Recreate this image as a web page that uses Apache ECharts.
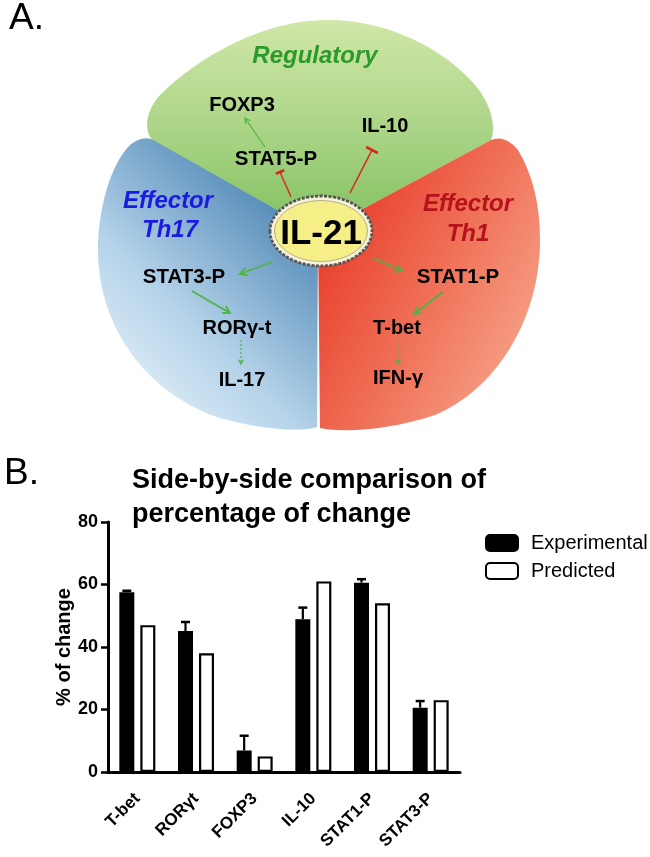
<!DOCTYPE html>
<html><head><meta charset="utf-8">
<script src="https://cdn.jsdelivr.net/npm/echarts@6/dist/echarts.min.js"></script>
<style>html,body{margin:0;padding:0;background:#fff}#c{width:650px;height:857px}</style>
</head><body><div id="c"></div>
<script>
// ---- Data (panel B) ----
const categories = ['T-bet', 'RORγt', 'FOXP3', 'IL-10', 'STAT1-P', 'STAT3-P'];
const experimental = [57.5, 45.1, 6.9, 48.9, 60.6, 20.6];
const experimentalErr = [0.5, 2.9, 4.7, 3.7, 1.1, 2.1];
const predicted = [47, 38, 5, 61, 54, 23];
const seriesNames = ['Experimental', 'Predicted'];
const yMin = 0, yMax = 80, yStep = 20;

const F = '"Liberation Sans", Arial, Helvetica, sans-serif';

// ---- Panel A diagram helpers ----
function txt(x, base, s, size, color, st, al) {
  return { type: 'text', z2: 20, style: { text: s, x: x, y: base - 0.35 * size,
    font: (st || 'bold') + ' ' + size + 'px ' + F, fill: color,
    textAlign: al || 'center', textVerticalAlign: 'middle', align: al || 'center', verticalAlign: 'middle' } };
}
function arrow(x1, y1, x2, y2, color, w, head, dash) {
  const a = Math.atan2(y2 - y1, x2 - x1), sp = 0.5;
  return [
    { type: 'line', z2: 15, shape: { x1: x1, y1: y1, x2: x2, y2: y2 }, style: { stroke: color, lineWidth: w, lineDash: dash || null } },
    { type: 'polyline', z2: 15, shape: { points: [[x2 - head * Math.cos(a - sp), y2 - head * Math.sin(a - sp)], [x2, y2], [x2 - head * Math.cos(a + sp), y2 - head * Math.sin(a + sp)]] },
      style: { stroke: color, lineWidth: w, fill: null } }
  ];
}
function inhibit(x1, y1, x2, y2, color, w, bar) {
  const a = Math.atan2(y2 - y1, x2 - x1), px = -Math.sin(a), py = Math.cos(a);
  return [
    { type: 'line', z2: 15, shape: { x1: x1, y1: y1, x2: x2, y2: y2 }, style: { stroke: color, lineWidth: w } },
    { type: 'line', z2: 15, shape: { x1: x2 + px * bar / 2, y1: y2 + py * bar / 2, x2: x2 - px * bar / 2, y2: y2 - py * bar / 2 }, style: { stroke: color, lineWidth: w + 1.2 } }
  ];
}
function grad(x, y, x2, y2, stops) {
  return new echarts.graphic.LinearGradient(x, y, x2, y2, stops.map(s => ({ offset: s[0], color: s[1] })));
}
function ell(cx, cy, rx, ry) {
  return 'M' + (cx - rx) + ',' + cy + ' A' + rx + ',' + ry + ' 0 1 0 ' + (cx + rx) + ',' + cy +
         ' A' + rx + ',' + ry + ' 0 1 0 ' + (cx - rx) + ',' + cy + ' Z';
}

const GREEN = '#4fb443', RED = '#d8281e';
function diagram() {
  return [
  { type: 'path', z2: 1, shape: { pathData: 'M318,233 L152,140 C144,130 145,112 160,95 C200,55 265,20 327,20 C390,20 445,50 475,85 C492,105 496,128 491,140 Z' },
    style: { fill: grad(0, 0, 0, 1, [[0, '#d0e7a7'], [0.55, '#a8d384'], [1, '#80c05f']]) } },
  { type: 'path', z2: 1, shape: { pathData: 'M318,233 L155,141 C148,136 138,138 130,145 C110,165 98,210 98,250 C98,330 150,395 220,418 C255,428 298,433 317,427 Z' },
    style: { fill: grad(0.05, 0.95, 0.95, 0.25, [[0, '#eef7fd'], [0.45, '#b2d1e8'], [1, '#4c84b3']]) } },
  { type: 'path', z2: 1, shape: { pathData: 'M318,233 L491,140 C500,136 510,140 518,150 C533,175 540,205 540,240 C540,320 495,390 435,415 C390,430 345,433 320,428 Z' },
    style: { fill: grad(0, 0.3, 1, 0.7, [[0, '#e83a2a'], [0.5, '#ef6e55'], [1, '#f6a388']]) } },
  { type: 'path', z2: 5, shape: { pathData: ell(321, 231, 51, 35) },
    style: { fill: '#f7f3d8', stroke: '#555', lineWidth: 2.8, lineDash: [3, 1.5] } },
  { type: 'path', z2: 6, shape: { pathData: ell(321, 231, 46.5, 30.5) },
    style: { fill: '#f6ee86', stroke: '#b5b08c', lineWidth: 1 } },
  txt(9, 32, 'A.', 37, '#000', 'normal', 'left'),
  txt(4, 487, 'B.', 37, '#000', 'normal', 'left'),
  txt(315, 65, 'Regulatory', 24, '#2b9a2b', 'italic bold'),
  txt(168, 210, 'Effector', 24, '#1a1ae0', 'italic bold'),
  txt(170, 239, 'Th17', 24, '#1a1ae0', 'italic bold'),
  txt(468, 213, 'Effector', 24, '#b5121b', 'italic bold'),
  txt(468, 243, 'Th1', 24, '#b5121b', 'italic bold'),
  txt(321, 247, 'IL-21', 35, '#000'),
  txt(242, 112, 'FOXP3', 20, '#000'),
  txt(276, 167, 'STAT5-P', 20.5, '#000'),
  txt(385, 133, 'IL-10', 20, '#000'),
  txt(184, 285, 'STAT3-P', 20.5, '#000'),
  txt(458, 285, 'STAT1-P', 20.5, '#000'),
  txt(237, 335, 'RORγ-t', 20, '#000'),
  txt(397, 335, 'T-bet', 20, '#000'),
  txt(242, 387, 'IL-17', 20, '#000'),
  txt(398, 385, 'IFN-γ', 20, '#000')
  ]
  .concat(arrow(265, 147, 245, 118, GREEN, 1.2, 6))
  .concat(arrow(272, 262, 240, 274, GREEN, 1.8, 8))
  .concat(arrow(373, 258, 402, 271, GREEN, 1.8, 8))
  .concat(arrow(192, 291, 230, 313, GREEN, 1.8, 8))
  .concat(arrow(443, 292, 414, 314, GREEN, 1.8, 8))
  .concat(arrow(241, 340, 241, 364, GREEN, 1.2, 5, [2, 2]))
  .concat(arrow(398, 340, 398, 364, GREEN, 1.2, 5, [2, 2]))
  .concat(inhibit(291, 197, 280, 172, RED, 1.4, 9))
  .concat(inhibit(350, 193, 372, 150, RED, 1.6, 13));
}

// ---- Chart ----
const chart = echarts.init(document.getElementById('c'), null, { renderer: 'canvas' });
const errData = experimental.map((v, i) => [i, v, experimentalErr[i]]);
const BW = 15, GAP = 6;
chart.setOption({
  animation: false,
  backgroundColor: '#fff',
  textStyle: { fontFamily: F },
  title: { text: 'Side-by-side comparison of\npercentage of change', left: 127, top: 459,
    textStyle: { fontSize: 27, fontWeight: 'bold', color: '#000', lineHeight: 34, fontFamily: F } },
  legend: { orient: 'vertical', left: 480, top: 528, itemWidth: 32, itemHeight: 16, itemGap: 8,
    icon: 'roundRect', data: seriesNames,
    textStyle: { fontSize: 20, color: '#000', fontFamily: F, padding: [0, 0, 0, 8] } },
  grid: { left: 108, right: 190, top: 522, bottom: 85 },
  xAxis: { type: 'category', data: categories,
    axisLine: { lineStyle: { color: '#000', width: 3 } },
    axisTick: { alignWithLabel: true, length: 8, lineStyle: { width: 2.5, color: '#000' } },
    axisLabel: { rotate: 45, fontWeight: 'bold', fontSize: 17, color: '#000', margin: 24, fontFamily: F, interval: 0 } },
  yAxis: { type: 'value', min: yMin, max: yMax, interval: yStep,
    name: '% of change', nameLocation: 'middle', nameGap: 34, nameRotate: 90, nameMoveOverlap: false,
    nameTextStyle: { fontWeight: 'bold', fontSize: 20, color: '#000', fontFamily: F },
    axisLine: { show: true, lineStyle: { color: '#000', width: 3 } },
    axisTick: { show: true, length: 7, lineStyle: { width: 2.5, color: '#000' } },
    axisLabel: { fontWeight: 'bold', fontSize: 18, color: '#000', margin: 10, fontFamily: F },
    splitLine: { show: false } },
  series: [
    { name: 'diagram', type: 'custom', coordinateSystem: 'none', data: [0], silent: true, z: 1,
      renderItem: function () { return { type: 'group', children: diagram() }; } },
    { name: seriesNames[0], type: 'bar', data: experimental, barWidth: BW, barGap: (GAP / BW * 100) + '%',
      itemStyle: { color: '#000', borderColor: '#000', borderWidth: 1.5 }, z: 2 },
    { name: seriesNames[1], type: 'bar', data: predicted, barWidth: BW,
      itemStyle: { color: '#fff', borderColor: '#000', borderWidth: 2.2 }, z: 2 },
    { name: 'err', type: 'custom', data: errData, z: 3, silent: true,
      renderItem: function (params, api) {
        const i = api.value(0), m = api.value(1), e = api.value(2);
        const off = -(BW + GAP) / 2;
        const p0 = api.coord([i, m]), p1 = api.coord([i, m + e]);
        const x = p0[0] + off;
        return { type: 'group', children: [
          { type: 'line', shape: { x1: x, y1: p0[1], x2: x, y2: p1[1] }, style: { stroke: '#000', lineWidth: 2.2 } },
          { type: 'line', shape: { x1: x - 4.5, y1: p1[1], x2: x + 4.5, y2: p1[1] }, style: { stroke: '#000', lineWidth: 2.5 } }
        ] };
      } }
  ]
});
</script></body></html>
